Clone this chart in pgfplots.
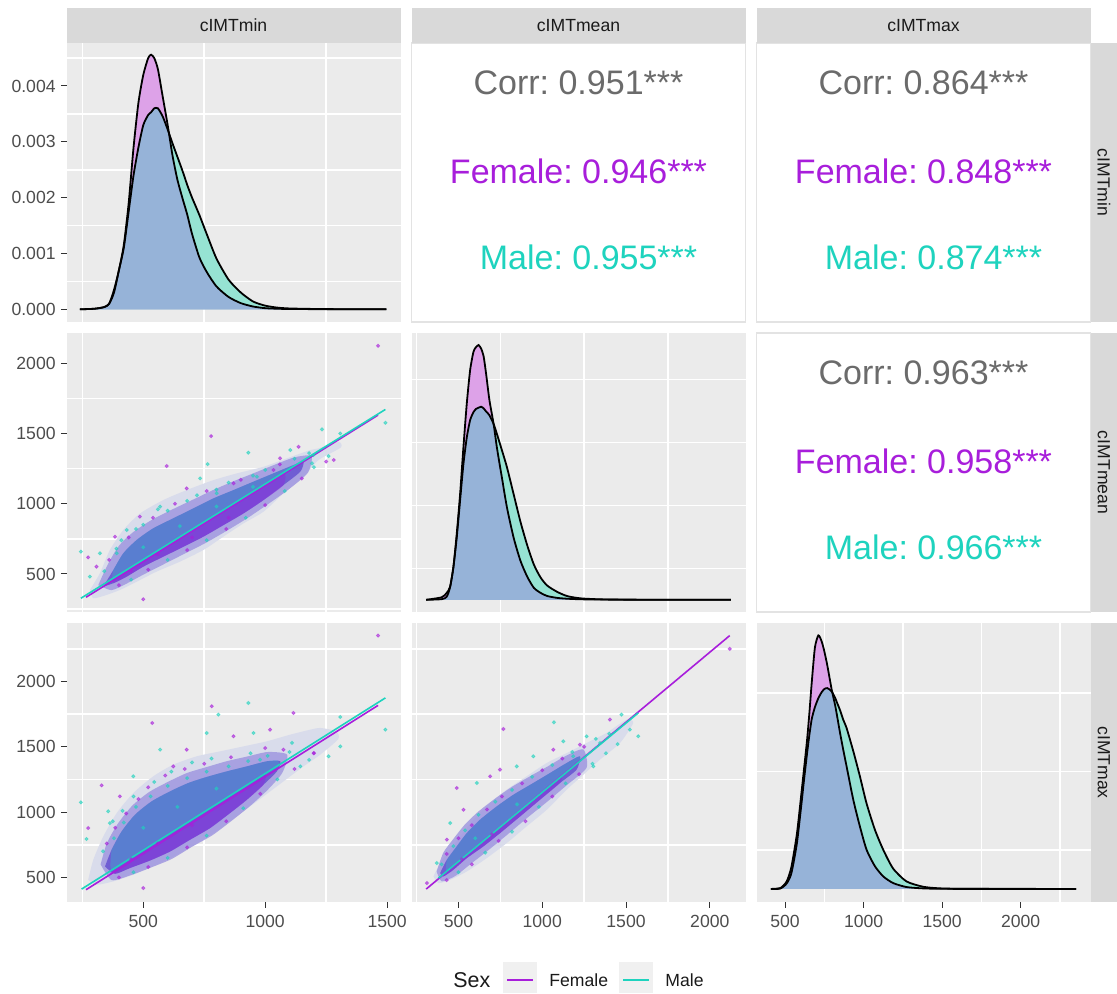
\documentclass[border=0pt]{standalone}
\usepackage{pgfplots}
\pgfplotsset{compat=1.18}
\usepackage{fontspec}
\setmainfont{Liberation Sans}
\definecolor{panelbg}{HTML}{EBEBEB}
\definecolor{stripbg}{HTML}{D9D9D9}
\definecolor{striptext}{HTML}{1A1A1A}
\definecolor{ticktext}{HTML}{4D4D4D}
\definecolor{tickcol}{HTML}{333333}
\definecolor{fem}{HTML}{A81EDB}
\definecolor{mal}{HTML}{1ED3BE}
\definecolor{corrgrey}{HTML}{6B6B6B}
\definecolor{fpink}{RGB}{221,162,232}
\definecolor{mteal}{RGB}{150,227,211}
\definecolor{ovblue}{RGB}{150,179,216}
\definecolor{halo}{RGB}{217,220,235}
\definecolor{mid}{RGB}{152,142,222}
\definecolor{core}{RGB}{105,86,210}
\definecolor{tband}{RGB}{50,190,205}
\definecolor{pband}{RGB}{140,45,220}
\definecolor{keybg}{HTML}{F0F0F0}
\definecolor{bordergrey}{HTML}{E3E3E3}
\tikzset{big/.style={font=\fontsize{17}{20}\selectfont}}
\pgfplotsset{
  panel/.style={
    scale only axis, width=167pt, height=139.5pt, anchor=north west,
    axis background/.style={fill=panelbg},
    axis line style={draw=none},
    xmajorgrids=true, ymajorgrids=true,
    major grid style={white, line width=0.8pt},
    tick style={draw=none},
    xticklabels={}, yticklabels={},
  },
  ticksonly/.style={
    scale only axis, width=167pt, height=139.5pt, anchor=north west,
    axis line style={draw=none},
    xtick=\empty, ytick=\empty,
    tick align=outside, major tick length=2.75pt,
    tick style={color=tickcol, line width=0.5pt},
    xtick pos=left, ytick pos=left,
    ticklabel style={font=\fontsize{8.8}{10}\selectfont, text=ticktext},
    xticklabel style={inner xsep=0pt, inner ysep=3.5pt},
    yticklabel style={inner xsep=2.5pt, inner ysep=0pt},
  },
  textpanel/.style={
    scale only axis, width=167pt, height=139.5pt, anchor=north west,
    axis background/.style={fill=white, draw=bordergrey, line width=0.6pt},
    axis line style={draw=none},
    xtick=\empty, ytick=\empty, xmin=0, xmax=1, ymin=0, ymax=1,
  },
  col1/.style={xmin=185, xmax=1555, xtick={250,750,1250}},
  col2/.style={xmin=220, xmax=2213, xtick={250,750,1250,1750}},
  col3/.style={xmin=318, xmax=2445, xtick={750,1250,1750,2250}},
  row2/.style={ymin=229, ymax=2215, ytick={250,750,1250,1750}},
  row3/.style={ymin=312, ymax=2447, ytick={750,1250,1750,2250}},
  fpts/.style={only marks, mark=*, mark size=0.8pt, fem, opacity=0.55, mark options={draw=none}},
  mpts/.style={only marks, mark=*, mark size=0.8pt, mal, opacity=0.55, mark options={draw=none}},
  cloud/.style={draw=none, smooth, tension=0.4},
}
\begin{document}
\frenchspacing
\begin{tikzpicture}
\path[use as bounding box] (0,0) rectangle (558.5pt,-496.5pt);

% ---------- (1,1) density cIMTmin
\begin{axis}[panel, col1, at={(33.25pt,-21.5pt)},
  ymin=-0.228, ymax=4.77, ytick={0.5,1.5,2.5,3.5,4.5}]
\addplot[fill=fpink, draw=none, smooth, tension=0.4] coordinates {(240,0) (300,0.01) (340,0.04) (360,0.1) (380,0.35) (400,0.7) (420,1.15) (440,1.9) (460,2.9) (480,3.7) (500,4.2) (520,4.5) (532,4.56) (545,4.5) (560,4.3) (580,3.8) (600,3.3) (620,2.75) (640,2.32) (660,2.0) (680,1.7) (700,1.35) (730,0.93) (760,0.67) (800,0.41) (850,0.22) (900,0.11) (950,0.05) (1000,0.02) (1050,0.01) (1100,0.005) (1200,0.003) (1300,0.001) (1497,0)} \closedcycle;
\addplot[fill=mteal, draw=none, smooth, tension=0.4] coordinates {(240,0) (300,0.01) (340,0.04) (360,0.1) (380,0.3) (400,0.7) (420,1.1) (440,1.75) (460,2.4) (480,2.9) (500,3.3) (520,3.48) (532,3.53) (545,3.6) (560,3.6) (580,3.45) (600,3.22) (620,2.97) (640,2.73) (660,2.49) (680,2.23) (700,2.0) (730,1.69) (760,1.35) (800,0.91) (850,0.53) (900,0.3) (950,0.14) (1000,0.065) (1050,0.03) (1100,0.015) (1200,0.006) (1300,0.002) (1497,0)} \closedcycle;
\addplot[fill=ovblue, draw=none, smooth, tension=0.4] coordinates {(240,0) (300,0.01) (340,0.04) (360,0.1) (380,0.3) (400,0.7) (420,1.1) (440,1.75) (460,2.4) (480,2.9) (500,3.3) (520,3.48) (532,3.53) (545,3.6) (560,3.6) (580,3.45) (600,3.22) (620,2.75) (640,2.32) (660,2.0) (680,1.7) (700,1.35) (730,0.93) (760,0.67) (800,0.41) (850,0.22) (900,0.11) (950,0.05) (1000,0.02) (1050,0.01) (1100,0.005) (1200,0.003) (1300,0.001) (1497,0)} \closedcycle;
\addplot[black, line width=0.9pt, smooth, tension=0.4] coordinates {(240,0) (300,0.01) (340,0.04) (360,0.1) (380,0.35) (400,0.7) (420,1.15) (440,1.9) (460,2.9) (480,3.7) (500,4.2) (520,4.5) (532,4.56) (545,4.5) (560,4.3) (580,3.8) (600,3.3) (620,2.75) (640,2.32) (660,2.0) (680,1.7) (700,1.35) (730,0.93) (760,0.67) (800,0.41) (850,0.22) (900,0.11) (950,0.05) (1000,0.02) (1050,0.01) (1100,0.005) (1200,0.003) (1300,0.001) (1497,0)};
\addplot[black, line width=0.9pt, smooth, tension=0.4] coordinates {(240,0) (300,0.01) (340,0.04) (360,0.1) (380,0.3) (400,0.7) (420,1.1) (440,1.75) (460,2.4) (480,2.9) (500,3.3) (520,3.48) (532,3.53) (545,3.6) (560,3.6) (580,3.45) (600,3.22) (620,2.97) (640,2.73) (660,2.49) (680,2.23) (700,2.0) (730,1.69) (760,1.35) (800,0.91) (850,0.53) (900,0.3) (950,0.14) (1000,0.065) (1050,0.03) (1100,0.015) (1200,0.006) (1300,0.002) (1497,0)};
\end{axis}
\begin{axis}[ticksonly, at={(33.25pt,-21.5pt)}, xmin=0, xmax=1,
  ymin=-0.228, ymax=4.77, ytick={0,1,2,3,4}, yticklabels={0.000,0.001,0.002,0.003,0.004}]
\end{axis}

% ---------- (1,2) text
\begin{axis}[textpanel, at={(205.75pt,-21.5pt)}]
\node[big, text=corrgrey] at (rel axis cs:0.5,0.858) {Corr: 0.951***};
\node[big, text=fem] at (rel axis cs:0.5,0.541) {Female: 0.946***};
\node[big, text=mal] at (rel axis cs:0.53,0.233) {Male: 0.955***};
\end{axis}

% ---------- (1,3) text
\begin{axis}[textpanel, at={(378.25pt,-21.5pt)}]
\node[big, text=corrgrey] at (rel axis cs:0.5,0.858) {Corr: 0.864***};
\node[big, text=fem] at (rel axis cs:0.5,0.541) {Female: 0.848***};
\node[big, text=mal] at (rel axis cs:0.53,0.233) {Male: 0.874***};
\end{axis}

% ---------- (2,1) scatter min vs mean
\begin{axis}[panel, col1, row2, at={(33.25pt,-166.5pt)}]
\addplot[fill=halo, cloud] coordinates {(281,386) (322,505) (363,671) (418,813) (487,931) (582,1026) (678,1097) (788,1168) (884,1216) (993,1263) (1089,1323) (1185,1382) (1219,1394) (1300,1440) (1310,1400) (1219,1311) (1157,1192) (1075,1074) (993,943) (911,860) (829,766) (747,671) (651,588) (555,517) (473,445) (404,386) (350,351) (295,327) (281,386)};
\addplot[fill=mid, fill opacity=0.75, cloud] coordinates {(315,420) (355,570) (400,700) (460,800) (535,885) (620,960) (705,1030) (790,1100) (870,1160) (950,1215) (1035,1275) (1120,1330) (1190,1340) (1175,1220) (1095,1100) (1010,995) (925,895) (840,805) (755,720) (670,645) (585,570) (500,495) (430,430) (370,385) (315,420)};
\addplot[fill=core, fill opacity=0.9, cloud] coordinates {(336,410) (377,528) (418,647) (473,742) (541,825) (623,896) (706,967) (788,1038) (870,1097) (952,1157) (1034,1216) (1116,1275) (1157,1299) (1144,1228) (1075,1133) (993,1026) (911,931) (829,848) (747,766) (665,694) (582,623) (500,552) (432,481) (377,434) (336,410)};
\addplot[fill=tband, fill opacity=0.35, cloud] coordinates {(377,528) (418,647) (473,742) (541,825) (623,896) (706,967) (788,1038) (870,1097) (952,1157) (1034,1216) (1116,1275) (1116,1265) (952,1089) (788,912) (623,735) (473,573) (377,470) (377,528)};
\addplot[fill=pband, fill opacity=0.5, cloud] coordinates {(377,470) (473,573) (623,735) (788,912) (952,1089) (1075,1221) (1075,1133) (993,1026) (911,931) (829,848) (747,766) (665,694) (582,623) (500,552) (432,481) (377,434) (377,470)};
\addplot[fpts] coordinates {(1463,2124) (778,1481) (596,1268) (500,320) (274,618) (1137,1405) (1061,1323) (678,1109) (486,908) (384,765) (308,552) (1034,1240) (870,1145) (1281,1311) (360,600) (440,760) (540,900) (630,1000) (760,1090) (900,1170) (1060,1280) (400,420) (520,530) (680,670) (840,820) (1000,990) (1150,1180) (1250,1300) (450,520) (560,640) (700,760) (850,900)};
\addplot[mpts] coordinates {(931,1363) (764,1282) (244,659) (1493,1576) (1233,1529) (1308,1500) (1192,1287) (1103,1382) (1198,1346) (1260,1339) (733,1180) (569,979) (432,813) (322,647) (391,647) (281,481) (966,1192) (801,1074) (340,520) (390,680) (410,740) (470,820) (500,850) (560,960) (600,950) (680,1020) (720,1060) (800,1100) (850,1150) (950,1200) (1000,1240) (1120,1320) (1180,1360) (450,460) (600,600) (760,740) (920,900) (1080,1090) (1200,1260) (500,690) (650,840) (800,980) (950,1120)};
\addplot[fem, line width=0.8pt] coordinates {(265,334) (1463,1631)};
\addplot[mal, line width=0.8pt] coordinates {(244,327) (1493,1671)};
\end{axis}
\begin{axis}[ticksonly, at={(33.25pt,-166.5pt)}, xmin=0, xmax=1,
  ymin=229, ymax=2215, ytick={500,1000,1500,2000}, yticklabels={500,1000,1500,2000}]
\end{axis}

% ---------- (2,2) density cIMTmean
\begin{axis}[panel, col2, at={(205.75pt,-166.5pt)},
  ymin=-0.194, ymax=4.235, ytick={0.5,1.5,2.5,3.5}]
\addplot[fill=fpink, draw=none, smooth, tension=0.4] coordinates {(307,0) (400,0.04) (430,0.11) (450,0.205) (470,0.52) (490,1.05) (510,1.68) (530,2.43) (550,3.12) (570,3.65) (590,3.94) (605,4.01) (620,4.044) (635,3.99) (650,3.87) (665,3.59) (685,3.17) (710,2.79) (730,2.41) (760,1.93) (790,1.46) (830,0.98) (870,0.62) (910,0.37) (950,0.19) (990,0.11) (1030,0.06) (1090,0.03) (1150,0.017) (1230,0.008) (1350,0.004) (1500,0.002) (1800,0.001) (2125,0)} \closedcycle;
\addplot[fill=mteal, draw=none, smooth, tension=0.4] coordinates {(307,0) (400,0.01) (430,0.049) (450,0.2) (470,0.52) (490,0.99) (510,1.58) (530,2.16) (550,2.58) (570,2.854) (590,2.98) (605,3.03) (620,3.05) (635,3.065) (650,3.04) (665,2.99) (685,2.93) (710,2.79) (730,2.63) (760,2.37) (790,2.10) (830,1.67) (870,1.24) (910,0.87) (950,0.56) (990,0.355) (1030,0.225) (1090,0.125) (1150,0.058) (1230,0.023) (1350,0.007) (1500,0.003) (1800,0.001) (2125,0)} \closedcycle;
\addplot[fill=ovblue, draw=none, smooth, tension=0.4] coordinates {(307,0) (400,0.01) (430,0.049) (450,0.2) (470,0.52) (490,0.99) (510,1.58) (530,2.16) (550,2.58) (570,2.854) (590,2.98) (605,3.03) (620,3.05) (635,3.065) (650,3.04) (665,2.99) (685,2.93) (710,2.79) (730,2.41) (760,1.93) (790,1.46) (830,0.98) (870,0.62) (910,0.37) (950,0.19) (990,0.11) (1030,0.06) (1090,0.03) (1150,0.017) (1230,0.008) (1350,0.004) (1500,0.002) (1800,0.001) (2125,0)} \closedcycle;
\addplot[black, line width=0.9pt, smooth, tension=0.4] coordinates {(307,0) (400,0.04) (430,0.11) (450,0.205) (470,0.52) (490,1.05) (510,1.68) (530,2.43) (550,3.12) (570,3.65) (590,3.94) (605,4.01) (620,4.044) (635,3.99) (650,3.87) (665,3.59) (685,3.17) (710,2.79) (730,2.41) (760,1.93) (790,1.46) (830,0.98) (870,0.62) (910,0.37) (950,0.19) (990,0.11) (1030,0.06) (1090,0.03) (1150,0.017) (1230,0.008) (1350,0.004) (1500,0.002) (1800,0.001) (2125,0)};
\addplot[black, line width=0.9pt, smooth, tension=0.4] coordinates {(307,0) (400,0.01) (430,0.049) (450,0.2) (470,0.52) (490,0.99) (510,1.58) (530,2.16) (550,2.58) (570,2.854) (590,2.98) (605,3.03) (620,3.05) (635,3.065) (650,3.04) (665,2.99) (685,2.93) (710,2.79) (730,2.63) (760,2.37) (790,2.10) (830,1.67) (870,1.24) (910,0.87) (950,0.56) (990,0.355) (1030,0.225) (1090,0.125) (1150,0.058) (1230,0.023) (1350,0.007) (1500,0.003) (1800,0.001) (2125,0)};
\end{axis}

% ---------- (2,3) text
\begin{axis}[textpanel, at={(378.25pt,-166.5pt)}]
\node[big, text=corrgrey] at (rel axis cs:0.5,0.858) {Corr: 0.963***};
\node[big, text=fem] at (rel axis cs:0.5,0.541) {Female: 0.958***};
\node[big, text=mal] at (rel axis cs:0.53,0.233) {Male: 0.966***};
\end{axis}

% ---------- (3,1) scatter min vs max
\begin{axis}[panel, col1, row3, at={(33.25pt,-311.5pt)}]
\addplot[fill=halo, cloud] coordinates {(274,482) (295,636) (336,814) (391,993) (459,1146) (541,1274) (623,1363) (719,1427) (815,1465) (911,1503) (1007,1542) (1103,1593) (1185,1631) (1226,1644) (1290,1620) (1300,1560) (1226,1440) (1157,1350) (1075,1235) (993,1120) (911,1006) (829,891) (747,789) (651,687) (555,597) (459,521) (377,470) (308,444) (274,482)};
\addplot[fill=mid, fill opacity=0.75, cloud] coordinates {(325,600) (350,760) (395,910) (455,1050) (525,1155) (605,1235) (680,1300) (760,1345) (843,1390) (925,1425) (1010,1460) (1090,1440) (1070,1300) (1010,1170) (940,1050) (870,945) (785,825) (700,735) (615,640) (530,575) (445,515) (370,480) (325,600)};
\addplot[fill=core, fill opacity=0.9, cloud] coordinates {(343,584) (370,712) (411,852) (466,980) (534,1082) (610,1159) (685,1223) (760,1269) (843,1312) (925,1350) (1007,1389) (1062,1389) (1048,1312) (993,1210) (925,1095) (856,993) (774,878) (692,789) (610,699) (528,630) (445,572) (384,528) (343,584)};
\addplot[fill=tband, fill opacity=0.35, cloud] coordinates {(370,712) (411,852) (466,980) (534,1082) (610,1159) (685,1223) (760,1269) (843,1312) (925,1350) (1007,1389) (1050,1395) (1050,1354) (925,1207) (760,1013) (610,837) (466,668) (370,555) (370,712)};
\addplot[fill=pband, fill opacity=0.5, cloud] coordinates {(360,544) (466,668) (610,837) (760,1013) (925,1207) (1000,1295) (993,1210) (925,1095) (856,993) (774,878) (692,789) (610,699) (528,630) (445,572) (384,528) (360,544)};
\addplot[fpts] coordinates {(1463,2351) (781,1810) (537,1682) (329,1205) (274,878) (500,419) (1116,1759) (1199,1452) (1020,1631) (870,1580) (678,1478) (623,1350) (404,1120) (1075,1478) (350,760) (385,880) (430,990) (480,1100) (520,1190) (590,1280) (670,1330) (750,1370) (860,1420) (1000,1490) (400,500) (520,580) (680,730) (840,930) (980,1140) (1120,1330) (1200,1450) (450,640) (560,760) (700,900)};
\addplot[mpts] coordinates {(931,1835) (808,1746) (267,794) (244,1075) (356,1006) (1308,1728) (1493,1631) (1260,1427) (1308,1503) (952,1605) (760,1605) (569,1478) (459,1274) (363,916) (1144,1350) (979,1401) (335,700) (380,800) (375,930) (420,920) (415,1010) (470,1040) (460,1120) (530,1120) (545,1230) (600,1200) (615,1310) (680,1260) (700,1380) (760,1310) (780,1410) (850,1350) (930,1390) (940,1450) (1010,1430) (1100,1460) (1110,1530) (460,540) (600,650) (760,820) (910,1030) (1050,1250) (1180,1400) (500,880) (640,1040) (800,1180)};
\addplot[fem, line width=0.8pt] coordinates {(265,406) (1463,1817)};
\addplot[mal, line width=0.8pt] coordinates {(247,411) (1493,1874)};
\end{axis}
\begin{axis}[ticksonly, at={(33.25pt,-311.5pt)}, xmin=185, xmax=1555,
  ymin=312, ymax=2447, ytick={500,1000,1500,2000}, yticklabels={500,1000,1500,2000},
  xtick={500,1000,1500}, xticklabels={500,1000,1500}]
\end{axis}

% ---------- (3,2) scatter mean vs max
\begin{axis}[panel, col2, row3, at={(205.75pt,-311.5pt)}]
\addplot[fill=halo, cloud] coordinates {(351,508) (391,610) (451,712) (510,814) (590,942) (689,1069) (788,1172) (907,1274) (1027,1376) (1146,1452) (1265,1529) (1384,1606) (1503,1708) (1543,1682) (1464,1529) (1344,1401) (1245,1286) (1146,1172) (1027,1018) (907,891) (788,763) (669,648) (550,546) (451,482) (381,457) (351,508)};
\addplot[fill=mid, fill opacity=0.75, cloud] coordinates {(370,545) (410,690) (470,795) (535,900) (615,1000) (715,1100) (815,1190) (935,1280) (1040,1355) (1140,1430) (1245,1480) (1265,1340) (1150,1210) (1030,1080) (905,950) (780,815) (675,705) (570,600) (480,510) (400,470) (370,545)};
\addplot[fill=core, fill opacity=0.9, cloud] coordinates {(391,534) (431,636) (490,738) (550,840) (629,942) (729,1044) (828,1133) (947,1223) (1046,1299) (1146,1376) (1225,1427) (1205,1325) (1106,1223) (987,1095) (868,967) (749,840) (649,738) (550,648) (470,559) (411,508) (391,534)};
\addplot[fill=tband, fill opacity=0.35, cloud] coordinates {(431,636) (490,738) (550,840) (629,942) (729,1044) (828,1133) (947,1223) (1046,1299) (1146,1376) (1225,1427) (1225,1394) (1146,1309) (947,1096) (729,862) (550,671) (431,543) (431,636)};
\addplot[fill=pband, fill opacity=0.5, cloud] coordinates {(411,522) (550,671) (729,862) (947,1096) (1106,1266) (1106,1223) (987,1095) (868,967) (749,840) (649,738) (550,648) (470,559) (411,508) (411,522)};
\addplot[fpts] coordinates {(2119,2249) (768,1636) (490,1184) (1404,1708) (1225,1516) (689,1274) (748,1325) (530,1018) (431,789) (312,457) (1066,1478) (430,680) (500,800) (580,900) (670,1020) (760,1120) (880,1220) (1000,1320) (1120,1410) (1250,1500) (430,480) (580,600) (740,780) (900,930) (1060,1120) (1220,1290) (520,640) (700,830)};
\addplot[mpts] coordinates {(1070,1687) (1473,1746) (1523,1631) (1573,1580) (1345,1529) (1185,1427) (610,1223) (848,1350) (947,1427) (451,916) (371,610) (1305,1350) (1126,1542) (1265,1580) (400,600) (470,740) (540,860) (620,980) (720,1080) (820,1170) (940,1270) (1060,1360) (1180,1460) (1320,1560) (1400,1600) (500,540) (660,690) (820,850) (980,1040) (1140,1220) (1300,1370) (1380,1450) (1450,1520) (600,800) (850,1060)};
\addplot[fem, line width=0.8pt] coordinates {(307.5,411) (2119,2351)};
\addplot[mal, line width=0.8pt] coordinates {(381,495) (1573,1759)};
\end{axis}
\begin{axis}[ticksonly, at={(205.75pt,-311.5pt)}, xmin=220, xmax=2213, ymin=0, ymax=1,
  xtick={500,1000,1500,2000}, xticklabels={500,1000,1500,2000}]
\end{axis}

% ---------- (3,3) density cIMTmax
\begin{axis}[panel, col3, at={(378.25pt,-311.5pt)},
  ymin=-0.167, ymax=3.392, ytick={0.5,1.5,2.5}]
\addplot[fill=fpink, draw=none, smooth, tension=0.4] coordinates {(409,0) (470,0.012) (510,0.095) (540,0.28) (575,0.70) (605,1.24) (620,1.52) (640,1.90) (655,2.25) (670,2.64) (690,3.08) (712,3.234) (733,3.157) (750,3.03) (769,2.85) (797,2.54) (818,2.35) (830,2.22) (850,1.99) (870,1.78) (892,1.56) (934,1.14) (976,0.80) (1019,0.50) (1072,0.29) (1125,0.16) (1188,0.075) (1273,0.024) (1379,0.007) (1480,0.002) (1600,0.001) (1800,0.0005) (2100,0.0003) (2353,0)} \closedcycle;
\addplot[fill=mteal, draw=none, smooth, tension=0.4] coordinates {(409,0) (470,0.005) (510,0.07) (540,0.20) (575,0.58) (605,1.10) (620,1.38) (640,1.73) (655,1.97) (670,2.17) (690,2.32) (712,2.434) (733,2.51) (750,2.55) (769,2.562) (797,2.519) (818,2.44) (830,2.38) (850,2.28) (870,2.16) (892,2.05) (934,1.76) (976,1.44) (1019,1.09) (1072,0.755) (1125,0.50) (1188,0.26) (1273,0.096) (1379,0.028) (1480,0.008) (1600,0.002) (1800,0.001) (2100,0.0005) (2353,0)} \closedcycle;
\addplot[fill=ovblue, draw=none, smooth, tension=0.4] coordinates {(409,0) (470,0.005) (510,0.07) (540,0.20) (575,0.58) (605,1.10) (620,1.38) (640,1.73) (655,1.97) (670,2.17) (690,2.32) (712,2.434) (733,2.51) (750,2.55) (769,2.562) (797,2.519) (818,2.35) (830,2.22) (850,1.99) (870,1.78) (892,1.56) (934,1.14) (976,0.80) (1019,0.50) (1072,0.29) (1125,0.16) (1188,0.075) (1273,0.024) (1379,0.007) (1480,0.002) (1600,0.001) (1800,0.0005) (2100,0.0003) (2353,0)} \closedcycle;
\addplot[black, line width=0.9pt, smooth, tension=0.4] coordinates {(409,0) (470,0.012) (510,0.095) (540,0.28) (575,0.70) (605,1.24) (620,1.52) (640,1.90) (655,2.25) (670,2.64) (690,3.08) (712,3.234) (733,3.157) (750,3.03) (769,2.85) (797,2.54) (818,2.35) (830,2.22) (850,1.99) (870,1.78) (892,1.56) (934,1.14) (976,0.80) (1019,0.50) (1072,0.29) (1125,0.16) (1188,0.075) (1273,0.024) (1379,0.007) (1480,0.002) (1600,0.001) (1800,0.0005) (2100,0.0003) (2353,0)};
\addplot[black, line width=0.9pt, smooth, tension=0.4] coordinates {(409,0) (470,0.005) (510,0.07) (540,0.20) (575,0.58) (605,1.10) (620,1.38) (640,1.73) (655,1.97) (670,2.17) (690,2.32) (712,2.434) (733,2.51) (750,2.55) (769,2.562) (797,2.519) (818,2.44) (830,2.38) (850,2.28) (870,2.16) (892,2.05) (934,1.76) (976,1.44) (1019,1.09) (1072,0.755) (1125,0.50) (1188,0.26) (1273,0.096) (1379,0.028) (1480,0.008) (1600,0.002) (1800,0.001) (2100,0.0005) (2353,0)};
\end{axis}
\begin{axis}[ticksonly, at={(378.25pt,-311.5pt)}, xmin=318, xmax=2445, ymin=0, ymax=1,
  xtick={500,1000,1500,2000}, xticklabels={500,1000,1500,2000}]
\end{axis}

% ---------- strips
\begin{scope}[font=\fontsize{8.8}{10}\selectfont]
\fill[stripbg] (33.25pt,-4pt) rectangle (200.25pt,-21.5pt);
\fill[stripbg] (205.75pt,-4pt) rectangle (372.75pt,-21.5pt);
\fill[stripbg] (378.25pt,-4pt) rectangle (545.25pt,-21.5pt);
\node[text=striptext] at (116.75pt,-12.75pt) {cIMTmin};
\node[text=striptext] at (289.25pt,-12.75pt) {cIMTmean};
\node[text=striptext] at (461.75pt,-12.75pt) {cIMTmax};
\fill[stripbg] (545.25pt,-21.5pt) rectangle (558.5pt,-161pt);
\fill[stripbg] (545.25pt,-166.5pt) rectangle (558.5pt,-306pt);
\fill[stripbg] (545.25pt,-311.5pt) rectangle (558.5pt,-451pt);
\node[text=striptext, rotate=-90] at (551.9pt,-91.25pt) {cIMTmin};
\node[text=striptext, rotate=-90] at (551.9pt,-236.25pt) {cIMTmean};
\node[text=striptext, rotate=-90] at (551.9pt,-381.25pt) {cIMTmax};
\end{scope}

% ---------- legend
\node[anchor=west, inner sep=0pt, font=\fontsize{10.7}{12}\selectfont, text=striptext] at (226.5pt,-490pt) {Sex};
\fill[keybg] (251.5pt,-481pt) rectangle (268.5pt,-496.5pt);
\draw[fem, line width=0.8pt] (253.5pt,-490pt) -- (266.5pt,-490pt);
\node[anchor=west, inner sep=0pt, font=\fontsize{8.8}{10}\selectfont, text=striptext] at (274.5pt,-490pt) {Female};
\fill[keybg] (309.5pt,-481pt) rectangle (326.5pt,-496.5pt);
\draw[mal, line width=0.8pt] (311.5pt,-490pt) -- (324.5pt,-490pt);
\node[anchor=west, inner sep=0pt, font=\fontsize{8.8}{10}\selectfont, text=striptext] at (332.5pt,-490pt) {Male};
\end{tikzpicture}
\end{document}
